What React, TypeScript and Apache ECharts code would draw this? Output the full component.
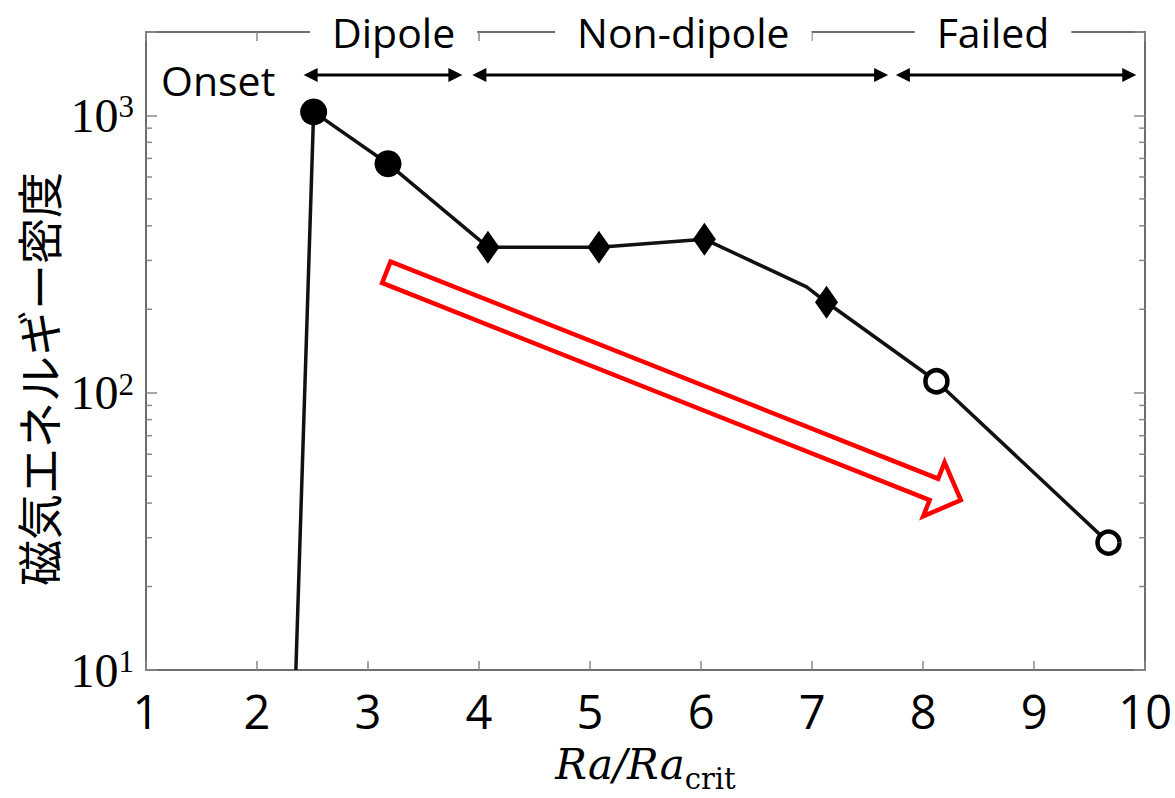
import React, { useEffect, useRef } from 'react';
import * as echarts from 'echarts';

// ---- data ----
const raRatio = [2.35, 2.51, 3.18, 4.08, 5.08, 6.03, 6.95, 7.13, 8.12, 9.67];
const energy = [10, 1030, 670, 335, 335, 358, 241, 212, 110, 28.8];
const regime = ['none', 'dipole', 'dipole', 'nondipole', 'nondipole', 'nondipole', 'none', 'nondipole', 'failed', 'failed'];

const xMin = 1;
const xMax = 10;
const yMin = 10;
const yMax = 2000;
const minorTickValues = [20, 30, 40, 50, 60, 70, 80, 90, 200, 300, 400, 500, 600, 700, 800, 900];

const regimeNames = ['Dipole', 'Non-dipole', 'Failed'];
const regimeStart = [2.42, 3.94, 7.755];
const regimeEnd = [3.85, 7.685, 9.92];
const regimeLabelX = [3.23, 5.84, 8.63];
const regimeArrowY = 1400;
const onsetText = 'Onset';
const onsetPos = [1.65, 1340];
const trendTail = [3.165, 272];
const trendTip = [8.34, 41];

const yAxisTitle = '磁気エネルギー密度';

const symbolFor = (r: string) => {
  if (r === 'dipole') return { symbol: 'circle', symbolSize: 27, itemStyle: { color: '#000', borderWidth: 0 } };
  if (r === 'nondipole') return { symbol: 'diamond', symbolSize: [23, 33], itemStyle: { color: '#000', borderWidth: 0 } };
  if (r === 'failed') return { symbol: 'circle', symbolSize: 22, itemStyle: { color: '#fff', borderColor: '#000', borderWidth: 4.5 } };
  return { symbol: 'none' };
};

const frameColor = '#6e6e6e';
const tickColor = '#8a8a8a';

export default function App() {
  const ref = useRef<HTMLDivElement>(null);
  useEffect(() => {
    document.body.style.margin = '0';
    const chart = echarts.init(ref.current!, undefined, { renderer: 'svg', width: 1175, height: 798 });
    const yLabelFmt = (v: number) => {
      const e = Math.round(Math.log10(v));
      if (Math.abs(Math.pow(10, e) - v) > 1e-6 * v) return '';
      return `{b|10}{s|${e}}`;
    };
    const option: any = {
      animation: false,
      backgroundColor: '#fff',
      grid: { left: 146, right: 29, top: 32, bottom: 117, containLabel: false },
      xAxis: [
        {
          type: 'value', min: xMin, max: xMax, interval: 1, position: 'bottom',
          axisLine: { show: true, lineStyle: { color: frameColor, width: 2 } },
          axisTick: { show: true, inside: true, length: 9, lineStyle: { color: tickColor, width: 1.5 } },
          splitLine: { show: false },
          axisLabel: { color: '#000', fontFamily: 'Open Sans', fontSize: 47, margin: 17 },
          name: '{i|Ra/Ra}{s|crit}',
          nameLocation: 'middle',
          nameGap: 65,
          nameTextStyle: {
            rich: {
              i: { fontFamily: 'DejaVu Serif', fontStyle: 'italic', fontSize: 42, color: '#000', lineHeight: 50, verticalAlign: 'bottom' },
              s: { fontFamily: 'DejaVu Serif', fontSize: 29, color: '#000', lineHeight: 50, verticalAlign: 'bottom', padding: [0, 0, -8, 0] },
            },
          },
        },
        {
          type: 'value', min: xMin, max: xMax, interval: 1, position: 'top',
          axisLine: { show: true, lineStyle: { color: frameColor, width: 2 } },
          axisTick: { show: true, inside: true, length: 9, lineStyle: { color: tickColor, width: 1.5 } },
          splitLine: { show: false },
          axisLabel: { show: false },
        },
      ],
      yAxis: [
        {
          type: 'log', logBase: 10, min: yMin, max: yMax, position: 'left',
          axisLine: { show: true, lineStyle: { color: frameColor, width: 2 } },
          axisTick: { show: true, inside: true, length: 11, lineStyle: { color: tickColor, width: 1.5 } },
          splitLine: { show: false },
          minorTick: { show: false },
          axisLabel: {
            formatter: yLabelFmt, margin: 12,
            rich: {
              b: { fontFamily: 'Liberation Serif', fontSize: 48, color: '#000', lineHeight: 48, verticalAlign: 'bottom' },
              s: { fontFamily: 'Liberation Serif', fontSize: 31, color: '#000', lineHeight: 48, verticalAlign: 'top', padding: [0, 0, 6, 0] },
            },
          },
          name: yAxisTitle,
          nameLocation: 'middle',
          nameRotate: 90,
          nameGap: 78,
          nameTextStyle: { fontFamily: 'Noto Sans CJK JP', fontSize: 46, color: '#000', padding: [0, 56, 0, 0] },
        },
        {
          type: 'log', logBase: 10, min: yMin, max: yMax, position: 'right',
          axisLine: { show: true, lineStyle: { color: frameColor, width: 2 } },
          axisTick: { show: true, inside: true, length: 11, lineStyle: { color: tickColor, width: 1.5 } },
          splitLine: { show: false },
          axisLabel: { show: false },
        },
      ],
      series: [
        {
          type: 'custom',
          xAxisIndex: 0, yAxisIndex: 0,
          data: minorTickValues.map((v) => [xMin, v]),
          silent: true,
          z: 1,
          renderItem: (params: any, api: any) => {
            const v = api.value(1);
            const l = api.coord([xMin, v]);
            const r = api.coord([xMax, v]);
            return {
              type: 'group',
              children: [
                { type: 'line', shape: { x1: l[0], y1: l[1], x2: l[0] + 6, y2: l[1] }, style: { stroke: tickColor, lineWidth: 1.5 } },
                { type: 'line', shape: { x1: r[0] - 6, y1: r[1], x2: r[0], y2: r[1] }, style: { stroke: tickColor, lineWidth: 1.5 } },
              ],
            };
          },
        },
        {
          type: 'line',
          xAxisIndex: 0, yAxisIndex: 0,
          z: 5,
          lineStyle: { color: '#111', width: 3.5 },
          data: raRatio.map((x, i) => ({ value: [x, energy[i]], ...symbolFor(regime[i]) })),
        },
      ],
    };
    chart.setOption(option);

    const px = (p: number[]) => chart.convertToPixel({ gridIndex: 0 }, p) as number[];
    const graphics: any[] = [];
    const topY = px([xMin, yMax])[1];
    regimeNames.forEach((name, i) => {
      const a = px([regimeStart[i], regimeArrowY]);
      const b = px([regimeEnd[i], regimeArrowY]);
      const hl = 14, hw = 7;
      graphics.push({ type: 'line', z: 100, shape: { x1: a[0] + hl - 2, y1: a[1], x2: b[0] - hl + 2, y2: b[1] }, style: { stroke: '#000', lineWidth: 3 } });
      graphics.push({ type: 'polygon', z: 100, shape: { points: [[a[0], a[1]], [a[0] + hl, a[1] - hw], [a[0] + hl, a[1] + hw]] }, style: { fill: '#000' } });
      graphics.push({ type: 'polygon', z: 100, shape: { points: [[b[0], b[1]], [b[0] - hl, b[1] - hw], [b[0] - hl, b[1] + hw]] }, style: { fill: '#000' } });
      const lx = px([regimeLabelX[i], yMax])[0];
      graphics.push({
        type: 'text', z: 101, x: lx, y: topY,
        style: { text: name, fontFamily: 'Open Sans', fontSize: 41, fill: '#000', align: 'center', verticalAlign: 'middle', backgroundColor: '#fff', padding: [0, 22] },
      });
    });
    const o = px(onsetPos);
    graphics.push({ type: 'text', z: 101, x: o[0], y: o[1], style: { text: onsetText, fontFamily: 'Open Sans', fontSize: 41, fill: '#000', align: 'center', verticalAlign: 'middle' } });

    // hollow red trend arrow
    const t0 = px(trendTail);
    const t1 = px(trendTip);
    const dx = t1[0] - t0[0], dy = t1[1] - t0[1];
    const len = Math.hypot(dx, dy);
    const ux = dx / len, uy = dy / len;
    const nx = -uy, ny = ux;
    const sw = 11.5, hw2 = 29, hlen = 29;
    const base = [t1[0] - ux * hlen, t1[1] - uy * hlen];
    const pts = [
      [t0[0] - nx * sw, t0[1] - ny * sw],
      [base[0] - nx * sw, base[1] - ny * sw],
      [base[0] - nx * hw2, base[1] - ny * hw2],
      [t1[0], t1[1]],
      [base[0] + nx * hw2, base[1] + ny * hw2],
      [base[0] + nx * sw, base[1] + ny * sw],
      [t0[0] + nx * sw, t0[1] + ny * sw],
    ];
    graphics.push({ type: 'polygon', z: 90, shape: { points: pts }, style: { fill: 'none', stroke: '#ff0000', lineWidth: 4.5, lineJoin: 'miter' } });

    chart.setOption({ graphic: graphics });
    return () => chart.dispose();
  }, []);
  return <div ref={ref} style={{ width: 1175, height: 798 }} />;
}
